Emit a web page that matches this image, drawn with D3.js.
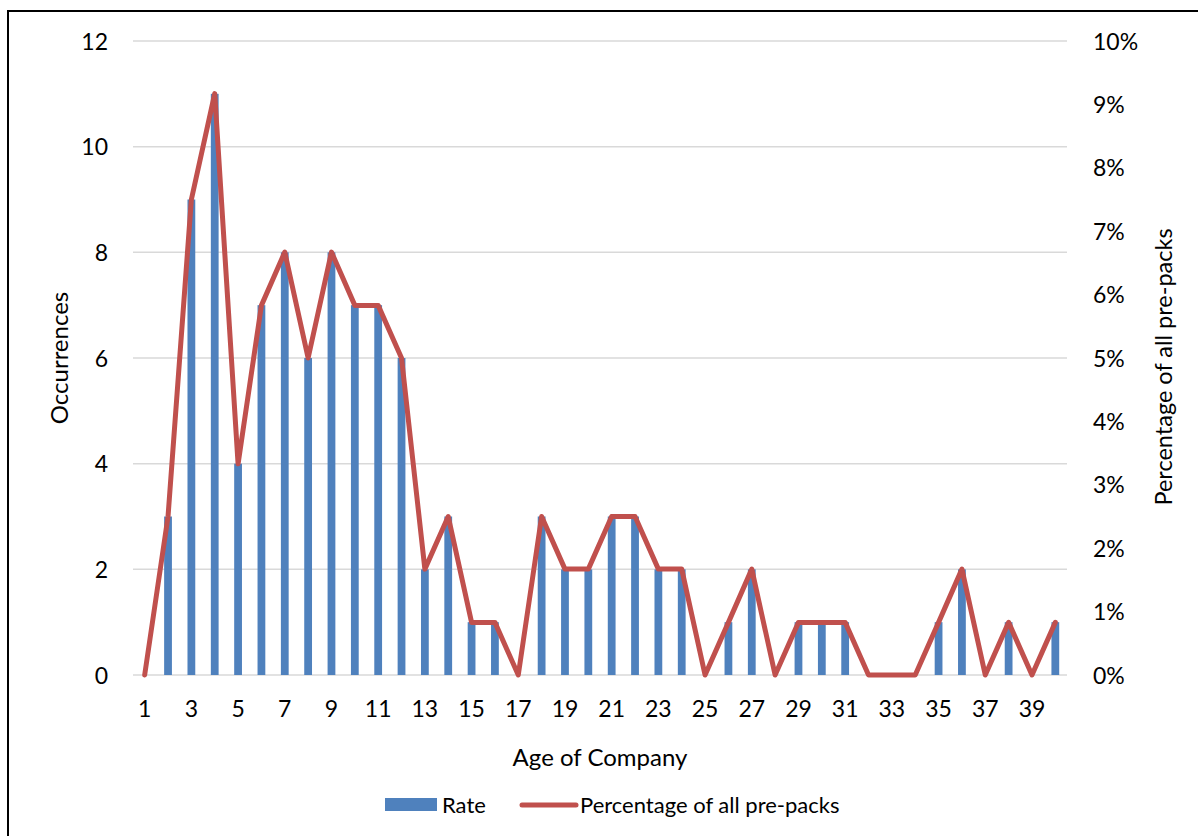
<!DOCTYPE html>
<html>
<head>
<meta charset="utf-8">
<script src="https://cdn.jsdelivr.net/npm/d3@7/dist/d3.min.js"></script>
<style>
  html, body { margin: 0; padding: 0; background: #fff; }
  svg text { font-family: Lato, "Open Sans", "Liberation Sans", sans-serif; fill: #000; }
</style>
</head>
<body>
<svg id="chart" width="1198" height="836"></svg>
<script>
// Age of company (years)
const ages = d3.range(1, 41);
// Number of pre-pack occurrences per company age
const occurrences = [0, 3, 9, 11, 4, 7, 8, 6, 8, 7, 7, 6, 2, 3, 1, 1, 0, 3, 2, 2,
                     3, 3, 2, 2, 0, 1, 2, 0, 1, 1, 1, 0, 0, 0, 1, 2, 0, 1, 0, 1];
// Share of all pre-packs (%)
const percentages = [0, 2.5, 7.5, 9.17, 3.33, 5.83, 6.67, 5.0, 6.67, 5.83, 5.83, 5.0, 1.67, 2.5, 0.83, 0.83, 0, 2.5, 1.67, 1.67,
                     2.5, 2.5, 1.67, 1.67, 0, 0.83, 1.67, 0, 0.83, 0.83, 0.83, 0, 0, 0, 0.83, 1.67, 0, 0.83, 0, 0.83];
const leftTicks = [0, 2, 4, 6, 8, 10, 12];
const rightTicks = [0, 1, 2, 3, 4, 5, 6, 7, 8, 9, 10];
const xTickLabels = ages.filter(a => a % 2 === 1);

const svg = d3.select("#chart");
const plot = { left: 133, right: 1067, top: 41, bottom: 675 };
const tickFont = 23;

// frame around the chart area
svg.append("rect")
  .attr("x", 8).attr("y", 11).attr("width", 1300).attr("height", 1000)
  .attr("fill", "none").attr("stroke", "#000").attr("stroke-width", 2);

const x = d3.scaleBand().domain(ages).range([plot.left, plot.right]).padding(0);
const yL = d3.scaleLinear().domain([0, 12]).range([plot.bottom, plot.top]);
const yR = d3.scaleLinear().domain([0, 10]).range([plot.bottom, plot.top]);

// horizontal gridlines
svg.append("g").selectAll("line").data(leftTicks).join("line")
  .attr("x1", plot.left).attr("x2", plot.right)
  .attr("y1", d => yL(d)).attr("y2", d => yL(d))
  .attr("stroke", "#d9d9d9").attr("stroke-width", 1.5);

function styleTicks(g) {
  g.select(".domain").remove();
  g.selectAll("text").attr("font-size", tickFont).attr("dy", "0.35em")
    .style("font-family", "Lato, 'Open Sans', sans-serif");
}

// left axis
svg.append("g").attr("transform", `translate(${plot.left - 25},0)`)
  .call(d3.axisLeft(yL).tickValues(leftTicks).tickSize(0).tickPadding(0))
  .call(styleTicks);

// right axis
svg.append("g").attr("transform", `translate(${plot.right + 26},0)`)
  .call(d3.axisRight(yR).tickValues(rightTicks).tickFormat(d => d + "%").tickSize(0).tickPadding(0))
  .call(styleTicks);

// bottom axis
svg.append("g").attr("transform", `translate(0,${plot.bottom + 34})`)
  .call(d3.axisBottom(x).tickValues(xTickLabels).tickSize(0).tickPadding(0))
  .call(styleTicks);

// bars
const barW = x.bandwidth() / 3;
svg.append("g").selectAll("rect").data(ages).join("rect")
  .attr("x", (d) => x(d) + x.bandwidth() / 2 - barW / 2)
  .attr("y", (d, i) => yL(occurrences[i]))
  .attr("width", barW)
  .attr("height", (d, i) => yL(0) - yL(occurrences[i]))
  .attr("fill", "#4f81bd");

// percentage line
const line = d3.line()
  .x((d, i) => x(ages[i]) + x.bandwidth() / 2)
  .y(d => yR(d));
svg.append("path").datum(percentages)
  .attr("d", line)
  .attr("fill", "none").attr("stroke", "#c0504d").attr("stroke-width", 5)
  .attr("stroke-linejoin", "round").attr("stroke-linecap", "round");

// axis titles
svg.append("text").attr("x", (plot.left + plot.right) / 2).attr("y", 758)
  .attr("text-anchor", "middle").attr("dy", "0.35em").attr("font-size", 24)
  .text("Age of Company");
svg.append("text").attr("transform", "translate(60,358) rotate(-90)")
  .attr("text-anchor", "middle").attr("dy", "0.35em").attr("font-size", 24)
  .text("Occurrences");
svg.append("text").attr("transform", "translate(1164,367) rotate(-90)")
  .attr("text-anchor", "middle").attr("dy", "0.35em").attr("font-size", 23.5)
  .text("Percentage of all pre-packs");

// legend
const legend = svg.append("g");
legend.append("rect").attr("x", 385).attr("y", 798).attr("width", 52).attr("height", 13).attr("fill", "#4f81bd");
legend.append("text").attr("x", 442).attr("y", 805).attr("dy", "0.35em").attr("font-size", 22).text("Rate");
legend.append("line").attr("x1", 522).attr("x2", 576).attr("y1", 805).attr("y2", 805)
  .attr("stroke", "#c0504d").attr("stroke-width", 5).attr("stroke-linecap", "round");
legend.append("text").attr("x", 580).attr("y", 805).attr("dy", "0.35em").attr("font-size", 22).text("Percentage of all pre-packs");
</script>
</body>
</html>
